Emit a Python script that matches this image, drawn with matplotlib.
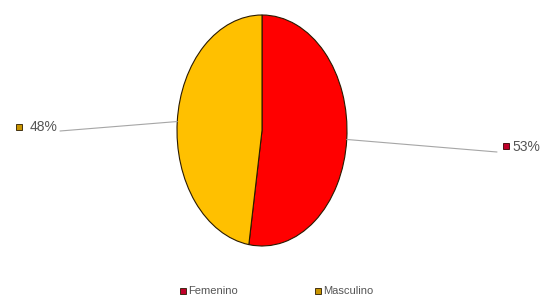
import numpy as np
import matplotlib.pyplot as plt
from matplotlib.lines import Line2D

categories = ["Femenino", "Masculino"]
values = [53, 48]
labels = ["53%", "48%"]
colors = ["#FF0000", "#FFC000"]
marker_colors = ["#C0002A", "#C89400"]

plt.rcParams['font.family'] = ['Liberation Sans Narrow', 'Liberation Sans', 'DejaVu Sans']

W, H = 545, 301
fig = plt.figure(figsize=(W / 100, H / 100), dpi=100)

# pie drawn as an ellipse (stretched axes)
ax = fig.add_axes([177 / W, (H - 246) / H, 170 / W, 231 / H])
wedges, _ = ax.pie(values, colors=colors, startangle=90, counterclock=False,
                   wedgeprops=dict(edgecolor="#2a1a00", linewidth=0.8))
ax.set_aspect('auto')
ax.set_xlim(-1.0, 1.0)
ax.set_ylim(-1.0, 1.0)
ax.axis('off')

# leader lines + value labels (figure pixel positions for text)
label_pos = [(497, 301 - 152), (60, 301 - 131)]
for w, lab, mc, (tx, ty) in zip(wedges, labels, marker_colors, label_pos):
    ang = np.deg2rad((w.theta1 + w.theta2) / 2)
    xy = (np.cos(ang), np.sin(ang))
    ax.annotate("", xy=xy, xytext=(tx, ty), textcoords='figure pixels',
                arrowprops=dict(arrowstyle='-', color='#a6a6a6', lw=0.8,
                                shrinkA=0, shrinkB=0),
                annotation_clip=False)
    if tx > 262:
        fig.add_artist(Line2D([(tx + 9) / W], [(ty + 6) / H], marker='s', markersize=4,
                              color=mc, markeredgecolor='#3a0000', markeredgewidth=0.6))
        fig.text((tx + 15) / W, (ty + 5) / H, lab, fontsize=10, color='#555555',
                 ha='left', va='center')
    else:
        fig.text((tx - 2) / W, (ty + 4) / H, lab, fontsize=10, color='#555555',
                 ha='right', va='center')
        fig.add_artist(Line2D([(tx - 41) / W], [(ty + 4) / H], marker='s', markersize=4,
                              color=mc, markeredgecolor='#2a1a00', markeredgewidth=0.6))

# legend
leg_x = [183, 318]
for x, cat, mc in zip(leg_x, categories, marker_colors):
    fig.add_artist(Line2D([x / W], [(H - 291) / H], marker='s', markersize=4,
                          color=mc, markeredgecolor='#2a1a00', markeredgewidth=0.6))
    fig.text((x + 5) / W, (H - 291) / H, cat, fontsize=8, color='#555555',
             ha='left', va='center')

fig.savefig("out.png", dpi=100)
